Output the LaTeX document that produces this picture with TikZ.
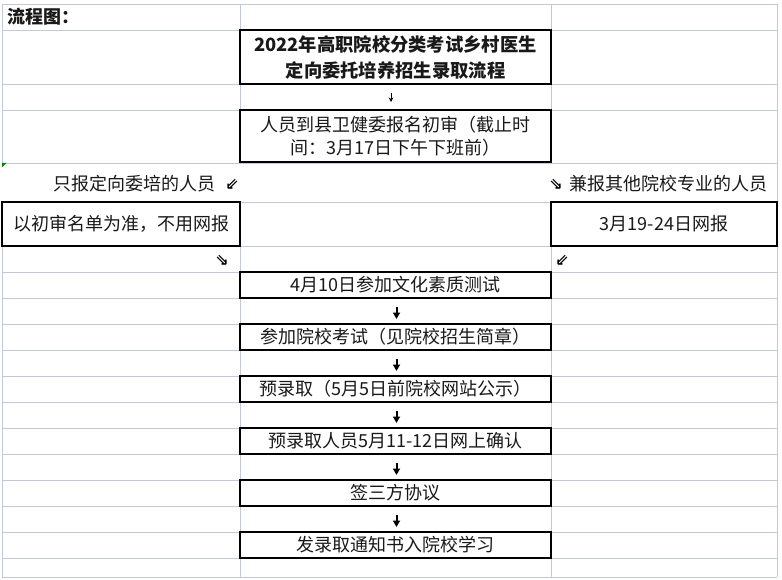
\documentclass[tikz,border=0pt]{standalone}
\usepackage{fontspec}
\setmainfont{Liberation Serif}
\newfontfamily\cjk{Noto Sans CJK SC}
\newfontfamily\symf{DejaVu Sans}
\usetikzlibrary{arrows.meta}
\definecolor{gridc}{RGB}{192,201,222}
\definecolor{markc}{RGB}{0,130,0}
\definecolor{txt}{RGB}{25,25,25}
\begin{document}
\begin{tikzpicture}[x=1pt,y=-1pt,
  gridline/.style={draw=gridc, line width=0.9pt},
  flowbox/.style={draw=black, line width=2pt, fill=white, inner sep=0pt,
    minimum width=311pt, minimum height=26pt, anchor=center, text=txt,
    font=\cjk\fontsize{18}{23}\selectfont, align=center},
  plain/.style={inner sep=0pt, text=txt, font=\cjk\fontsize{18}{23}\selectfont},
  dbl/.style={inner sep=0pt, font=\symf\bfseries\fontsize{16}{16}\selectfont},
  thickarrow/.style={line width=2pt, -{Triangle[length=6.5pt,width=7pt]}, shorten <=8pt, shorten >=4pt},
  thinarrow/.style={line width=0.8pt, -{Stealth[length=4.5pt,width=4.5pt]}, shorten <=8pt, shorten >=7pt}]
\useasboundingbox (0,0) rectangle (782,580);
% grid
\foreach \yy in {4,30,84,110,163,202,246,272,298,324,350,376,402,428,454,480,506,532,558,577}
  \draw[gridline] (2,\yy) -- (777,\yy);
\draw[gridline] (2,4) -- (2,163);
\draw[gridline] (2,202) -- (2,577);
\foreach \xx in {240,551} {
  \draw[gridline] (\xx,4) -- (\xx,163);
  \draw[gridline] (\xx,202) -- (\xx,577);
}
\draw[gridline] (777,4) -- (777,577);
\fill[markc] (2,163) -- (6.5,163) -- (2,167.5) -- cycle;
% header
\node[plain, anchor=west, font=\cjk\bfseries\fontsize{18}{23}\selectfont] (hdr) at (7,17) {流程图：};
% title and registration
\node[flowbox, minimum height=54pt, font=\cjk\bfseries\fontsize{18.3}{26}\selectfont] (title) at (395.5,57)
  {2022年高职院校分类考试乡村医生\\定向委托培养招生录取流程};
\node[flowbox, minimum height=52pt] (reg) at (395.5,136)
  {人员到县卫健委报名初审（截止时\\间：3月17日下午下班前）};
\draw[thinarrow] ([xshift=-4.5pt]title.south) -- ([xshift=-4.5pt]reg.north);
% branches
\node[plain, anchor=east] (onlyA) at (216,184) {只报定向委培的人员};
\node[dbl] (aL1) at (232,184) {⇙};
\node[dbl] (aR1) at (556,184) {⇘};
\node[plain, anchor=west] (alsoB) at (569,184) {兼报其他院校专业的人员};
\node[flowbox, minimum width=238pt, minimum height=44pt] (left) at (121,224) {以初审名单为准，不用网报};
\node[flowbox, minimum width=226pt, minimum height=44pt] (right) at (664,224) {3月19-24日网报};
\node[dbl] (aL2) at (222,260) {⇘};
\node[dbl] (aR2) at (562,260) {⇙};
% main flow
\node[flowbox] (s1) at (395.5,285) {4月10日参加文化素质测试};
\node[flowbox] (s2) at (395.5,337) {参加院校考试（见院校招生简章）};
\node[flowbox] (s3) at (395.5,389) {预录取（5月5日前院校网站公示）};
\node[flowbox] (s4) at (395.5,441) {预录取人员5月11-12日网上确认};
\node[flowbox] (s5) at (395.5,493) {签三方协议};
\node[flowbox] (s6) at (395.5,545) {发录取通知书入院校学习};
\foreach \a/\b in {s1/s2,s2/s3,s3/s4,s4/s5,s5/s6}
  \draw[thickarrow] ([xshift=1pt]\a.south) -- ([xshift=1pt]\b.north);
\end{tikzpicture}
\end{document}
